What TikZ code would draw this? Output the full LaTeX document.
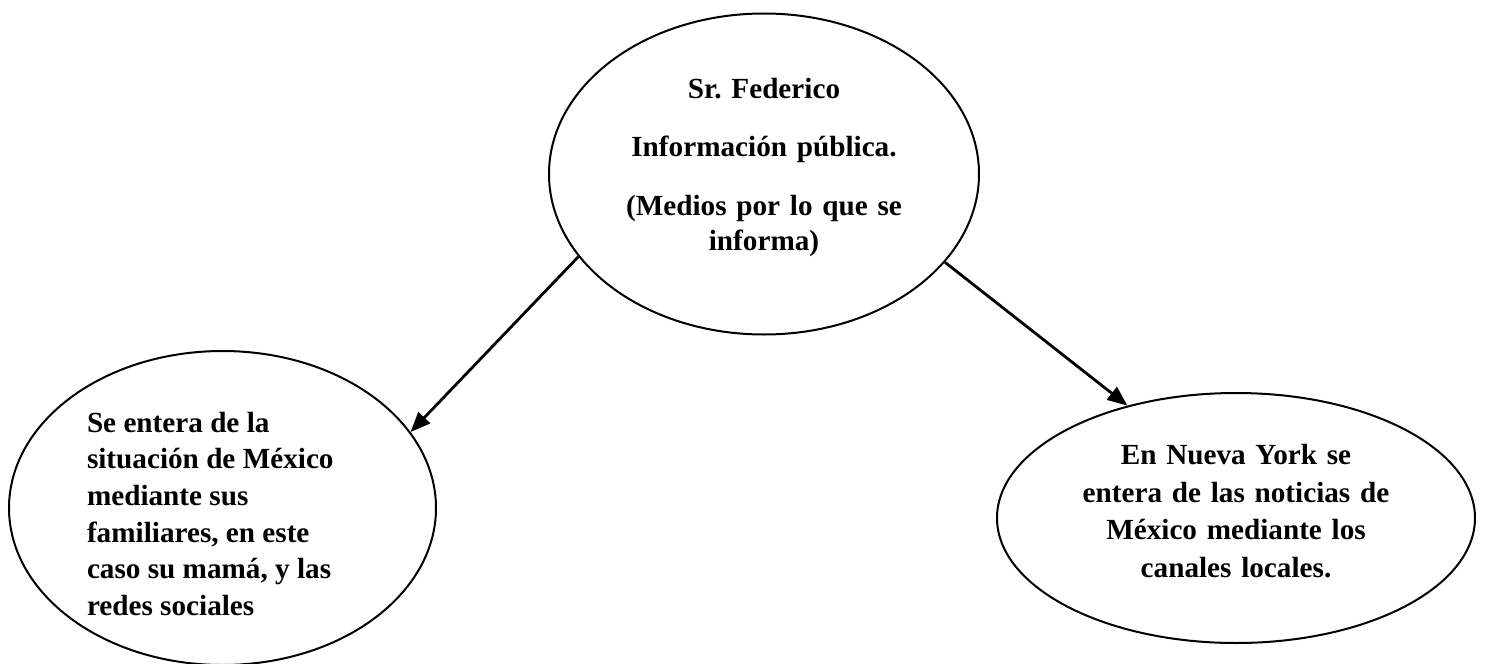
\documentclass[tikz,border=0pt]{standalone}
\usepackage{fontspec}
\setmainfont{Liberation Serif}
\frenchspacing
\usetikzlibrary{shapes.geometric,arrows.meta}
\tikzset{main style/.style={
		draw=black,
		line width=1pt,
		fill=white,
		text=black,
		ellipse,
		inner sep=-10pt,
		text width=150pt,
		align=center,
		minimum width=215pt,
		minimum height=160.5pt,
		font=\fontsize{14.6}{17.5}\selectfont\bfseries,
	},
	family style/.style={
		draw=black,
		line width=1pt,
		fill=white,
		text=black,
		ellipse,
		inner sep=-10pt,
		text width=135.5pt,
		align=flush left,
		minimum width=213.5pt,
		minimum height=157pt,
		font=\fontsize{14.6}{18.35}\selectfont\bfseries,
	},
	news style/.style={
		draw=black,
		line width=1pt,
		fill=white,
		text=black,
		ellipse,
		inner sep=-10pt,
		text width=165pt,
		align=center,
		minimum width=239pt,
		minimum height=125pt,
		font=\fontsize{14.6}{18.85}\selectfont\bfseries,
	},
	edge style/.style={
		->,
		line width=1.4pt,
	}
}

\begin{document}
\begin{tikzpicture}[x=0.5pt,y=-0.5pt,>={Triangle[length=10pt,width=8pt]}]
	\useasboundingbox (0,0) rectangle (1485,664);

	\node[main style] (Federico) at (764,174) {Sr. Federico\\[11.75pt]
		Información pública.\\[11.75pt]
		(Medios por lo que se\\ informa)\par\vspace*{7pt}};

	\node[family style] (Familia) at (222.5,508) {\rule{0pt}{16pt}Se entera de la\\
		situación de México\\ mediante sus\\ familiares, en este\\
		caso su mamá, y las\\ redes sociales};

	\node[news style] (NuevaYork) at (1236,518) {En Nueva York se\\
		entera de las noticias de\\ México mediante los\\
		canales locales.\par\vspace*{7pt}};

	\draw[edge style] (Federico.204.8) -- (Familia.22.6);
	\draw[edge style] (Federico.334.2) -- (NuevaYork.134);
\end{tikzpicture}
\end{document}
